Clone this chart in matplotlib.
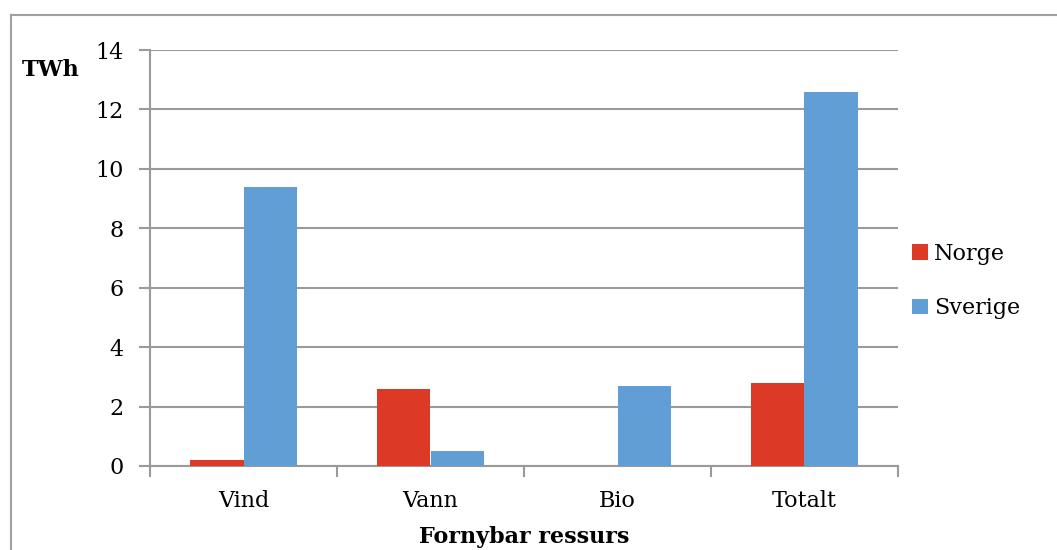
import matplotlib
matplotlib.use("Agg")
import matplotlib.pyplot as plt
import numpy as np
from matplotlib.lines import Line2D

categories = ["Vind", "Vann", "Bio", "Totalt"]
norge = [0.2, 2.6, 0.0, 2.8]
sverige = [9.4, 0.5, 2.7, 12.6]
series_names = ["Norge", "Sverige"]
yticks = [0, 2, 4, 6, 8, 10, 12, 14]

RED = "#DD3927"
BLUE = "#609ED5"
GRID = "#9A9A9A"
FONT = "DejaVu Serif"

W, H = 1057, 550
fig = plt.figure(figsize=(W / 100, H / 100), dpi=100)
ax = fig.add_axes([150 / W, 1 - 466 / H, 748 / W, 416 / H])

x = np.arange(len(categories))
bw = 0.285
ax.bar(x - bw / 2, norge, width=bw, color=RED, zorder=3, label=series_names[0])
ax.bar(x + bw / 2, sverige, width=bw, color=BLUE, zorder=3, label=series_names[1])

ax.set_xlim(-0.5, len(categories) - 0.5)
ax.set_ylim(0, 14)
ax.set_yticks(yticks)
ax.set_yticklabels([str(v) for v in yticks], fontfamily=FONT, fontsize=16)
ax.yaxis.grid(True, color=GRID, linewidth=1.5, zorder=0)
ax.tick_params(axis="y", length=8, width=1.5, color=GRID, pad=11)

ax.set_xticks(x)
ax.set_xticklabels(categories, fontfamily=FONT, fontsize=16)
ax.tick_params(axis="x", length=0, pad=17)
ax.set_xticks(np.arange(len(categories) + 1) - 0.5, minor=True)
ax.tick_params(axis="x", which="minor", length=8, width=1.5, color=GRID)

for s in ["top", "right"]:
    ax.spines[s].set_visible(False)
for s in ["left", "bottom"]:
    ax.spines[s].set_color(GRID)
    ax.spines[s].set_linewidth(1.5)

ax.set_xlabel("Fornybar ressurs", fontfamily=FONT, fontsize=16, fontweight="bold", labelpad=10.5)
fig.text(22 / W, 1 - 70 / H, "TWh", fontfamily=FONT, fontsize=16, fontweight="bold",
         ha="left", va="center")

leg = fig.legend(handles=ax.get_legend_handles_labels()[0], labels=series_names,
                 loc="center left", bbox_to_anchor=(912 / W, 1 - 281 / H), frameon=False,
                 prop={"family": FONT, "size": 16}, handlelength=0.7, handleheight=0.7,
                 handletextpad=0.3, labelspacing=1.45, borderpad=0, borderaxespad=0)

# border
fig.add_artist(Line2D([11 / W, 11 / W], [1 - 14.5 / H, 0], color="#A0A0A0", linewidth=1.5,
                      transform=fig.transFigure))
fig.add_artist(Line2D([11 / W, 1], [1 - 14.5 / H, 1 - 14.5 / H], color="#A0A0A0", linewidth=1.5,
                      transform=fig.transFigure))

fig.savefig("out.png", dpi=100)
